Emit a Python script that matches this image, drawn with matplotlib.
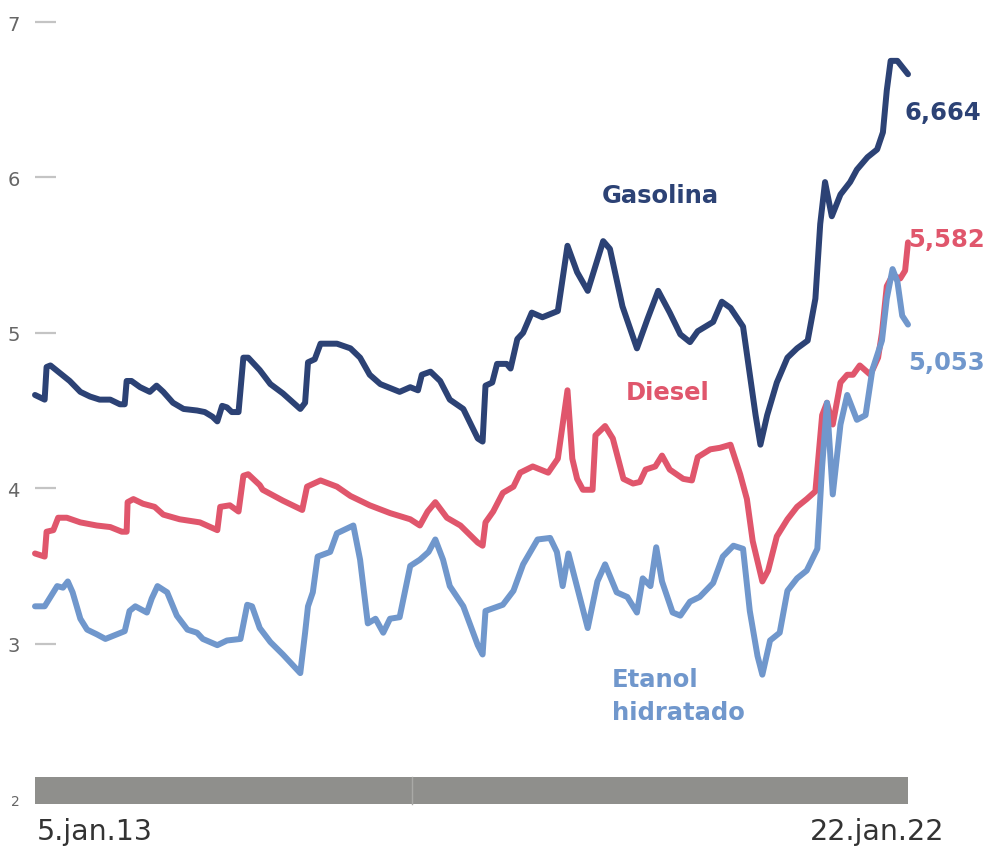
import matplotlib.pyplot as plt

# weekly fuel prices (R$/litre), key points by decimal year
gas_t = [2013.01, 2013.11, 2013.13, 2013.17, 2013.27, 2013.37, 2013.48, 2013.58, 2013.68, 2013.79,
         2013.89, 2013.94, 2013.96, 2014.01, 2014.10, 2014.20, 2014.27, 2014.34, 2014.44, 2014.55,
         2014.69, 2014.77, 2014.85, 2014.90, 2014.95, 2015.00, 2015.05, 2015.12, 2015.17, 2015.22,
         2015.34, 2015.45, 2015.58, 2015.76, 2015.81, 2015.84, 2015.91, 2015.97, 2016.14, 2016.28,
         2016.38, 2016.48, 2016.59, 2016.79, 2016.90, 2016.98, 2017.02, 2017.11, 2017.21, 2017.31,
         2017.45, 2017.60, 2017.65, 2017.68, 2017.75, 2017.80, 2017.90, 2017.94, 2018.01, 2018.07,
         2018.16, 2018.27, 2018.43, 2018.53, 2018.63, 2018.74, 2018.82, 2018.90, 2018.97, 2019.10,
         2019.25, 2019.36, 2019.47, 2019.59, 2019.70, 2019.80, 2019.88, 2020.04, 2020.13, 2020.22,
         2020.35, 2020.40, 2020.48, 2020.53, 2020.60, 2020.70, 2020.81, 2020.91, 2021.02, 2021.10,
         2021.15, 2021.20, 2021.27, 2021.36, 2021.46, 2021.53, 2021.64, 2021.74, 2021.80, 2021.84,
         2021.88, 2021.95, 2022.06]
gas_v = [4.60, 4.57, 4.78, 4.79, 4.74, 4.69, 4.62, 4.59, 4.57, 4.57,
         4.54, 4.54, 4.69, 4.69, 4.65, 4.62, 4.66, 4.62, 4.55, 4.51,
         4.50, 4.49, 4.46, 4.43, 4.53, 4.52, 4.49, 4.49, 4.84, 4.84,
         4.76, 4.67, 4.61, 4.51, 4.55, 4.81, 4.83, 4.93, 4.93, 4.90,
         4.84, 4.73, 4.67, 4.62, 4.65, 4.63, 4.73, 4.75, 4.69, 4.57,
         4.51, 4.32, 4.30, 4.66, 4.68, 4.80, 4.80, 4.77, 4.96, 5.00,
         5.13, 5.10, 5.14, 5.56, 5.39, 5.27, 5.43, 5.59, 5.54, 5.17,
         4.90, 5.09, 5.27, 5.13, 4.99, 4.94, 5.01, 5.07, 5.20, 5.16,
         5.04, 4.82, 4.47, 4.28, 4.47, 4.68, 4.84, 4.90, 4.95, 5.22,
         5.70, 5.97, 5.75, 5.89, 5.97, 6.05, 6.13, 6.18, 6.29, 6.56,
         6.75, 6.75, 6.664]

diesel_t = [2013.01, 2013.11, 2013.13, 2013.20, 2013.25, 2013.34, 2013.48, 2013.65, 2013.79, 2013.91,
            2013.96, 2013.97, 2014.03, 2014.13, 2014.25, 2014.34, 2014.51, 2014.72, 2014.90, 2014.93,
            2015.03, 2015.12, 2015.17, 2015.22, 2015.34, 2015.37, 2015.58, 2015.78, 2015.83, 2015.97,
            2016.14, 2016.28, 2016.48, 2016.69, 2016.90, 2017.00, 2017.08, 2017.16, 2017.28, 2017.42,
            2017.60, 2017.65, 2017.68, 2017.76, 2017.86, 2017.97, 2018.04, 2018.17, 2018.33, 2018.43,
            2018.53, 2018.58, 2018.63, 2018.69, 2018.79, 2018.82, 2018.92, 2019.00, 2019.11, 2019.21,
            2019.28, 2019.34, 2019.44, 2019.51, 2019.59, 2019.73, 2019.82, 2019.88, 2020.01, 2020.11,
            2020.22, 2020.32, 2020.39, 2020.45, 2020.55, 2020.61, 2020.70, 2020.81, 2020.91, 2021.01,
            2021.10, 2021.17, 2021.22, 2021.28, 2021.36, 2021.43, 2021.49, 2021.56, 2021.67, 2021.75,
            2021.79, 2021.84, 2021.90, 2021.98, 2022.03, 2022.06]
diesel_v = [3.58, 3.56, 3.72, 3.73, 3.81, 3.81, 3.78, 3.76, 3.75, 3.72,
            3.72, 3.91, 3.93, 3.90, 3.88, 3.83, 3.80, 3.78, 3.73, 3.88,
            3.89, 3.85, 4.08, 4.09, 4.02, 3.99, 3.92, 3.86, 4.01, 4.05,
            4.01, 3.95, 3.89, 3.84, 3.80, 3.76, 3.85, 3.91, 3.81, 3.76,
            3.65, 3.63, 3.78, 3.85, 3.97, 4.01, 4.10, 4.14, 4.10, 4.19,
            4.63, 4.19, 4.06, 3.99, 3.99, 4.34, 4.40, 4.32, 4.06, 4.03,
            4.04, 4.12, 4.14, 4.21, 4.12, 4.06, 4.05, 4.20, 4.25, 4.26,
            4.28, 4.09, 3.93, 3.66, 3.40, 3.47, 3.69, 3.80, 3.88, 3.93,
            3.98, 4.47, 4.55, 4.41, 4.68, 4.73, 4.73, 4.79, 4.73, 4.84,
            5.00, 5.30, 5.37, 5.35, 5.40, 5.582]

etanol_t = [2013.01, 2013.11, 2013.17, 2013.24, 2013.30, 2013.35, 2013.40, 2013.48, 2013.55, 2013.65,
            2013.74, 2013.86, 2013.94, 2013.99, 2014.05, 2014.17, 2014.22, 2014.28, 2014.38, 2014.48,
            2014.59, 2014.69, 2014.75, 2014.90, 2015.00, 2015.14, 2015.21, 2015.26, 2015.34, 2015.45,
            2015.58, 2015.76, 2015.81, 2015.84, 2015.89, 2015.94, 2016.07, 2016.14, 2016.31, 2016.38,
            2016.46, 2016.54, 2016.62, 2016.69, 2016.79, 2016.90, 2017.00, 2017.09, 2017.16, 2017.24,
            2017.31, 2017.45, 2017.60, 2017.65, 2017.68, 2017.86, 2017.97, 2018.07, 2018.22, 2018.35,
            2018.42, 2018.48, 2018.54, 2018.64, 2018.74, 2018.84, 2018.92, 2019.04, 2019.15, 2019.25,
            2019.31, 2019.39, 2019.45, 2019.51, 2019.62, 2019.70, 2019.80, 2019.90, 2020.04, 2020.14,
            2020.25, 2020.35, 2020.42, 2020.50, 2020.55, 2020.63, 2020.73, 2020.81, 2020.91, 2021.01,
            2021.12, 2021.17, 2021.22, 2021.28, 2021.36, 2021.43, 2021.53, 2021.62, 2021.69, 2021.79,
            2021.84, 2021.90, 2021.95, 2022.00, 2022.06]
etanol_v = [3.24, 3.24, 3.30, 3.37, 3.36, 3.40, 3.33, 3.16, 3.09, 3.06,
            3.03, 3.06, 3.08, 3.21, 3.24, 3.20, 3.29, 3.37, 3.33, 3.18,
            3.09, 3.07, 3.03, 2.99, 3.02, 3.03, 3.25, 3.24, 3.10, 3.01,
            2.93, 2.81, 3.07, 3.24, 3.33, 3.56, 3.59, 3.71, 3.76, 3.54,
            3.13, 3.16, 3.07, 3.16, 3.17, 3.50, 3.54, 3.59, 3.67, 3.54,
            3.37, 3.24, 2.99, 2.93, 3.21, 3.25, 3.34, 3.51, 3.67, 3.68,
            3.59, 3.37, 3.58, 3.34, 3.10, 3.40, 3.51, 3.33, 3.30, 3.20,
            3.42, 3.37, 3.62, 3.40, 3.20, 3.18, 3.27, 3.30, 3.39, 3.56,
            3.63, 3.61, 3.21, 2.92, 2.80, 3.02, 3.07, 3.34, 3.42, 3.47,
            3.61, 4.14, 4.55, 3.96, 4.41, 4.60, 4.44, 4.47, 4.76, 4.95,
            5.22, 5.41, 5.33, 5.11, 5.053]

start_label = "5.jan.13"
end_label = "22.jan.22"
y_ticks = [2, 3, 4, 5, 6, 7]

NAVY = "#2c4275"
RED = "#e0566c"
BLUE = "#7097cc"

fig = plt.figure(figsize=(9.9, 8.54), dpi=100)
ax = fig.add_axes([35 / 990, 39 / 854, 873 / 990, 805 / 854])
ax.set_xlim(gas_t[0], gas_t[-1])
ax.set_ylim(1.9035, 7.0837)

for s in ax.spines.values():
    s.set_visible(False)

# time bar along the bottom
ax.fill_between([gas_t[0], gas_t[-1]], 1.97, 2.14, color="#8f8f8c", lw=0, zorder=1)
ax.plot([2016.92, 2016.92], [1.97, 2.14], color="#a9a9a6", lw=1, zorder=1)

series = [(gas_t, gas_v, NAVY), (diesel_t, diesel_v, RED), (etanol_t, etanol_v, BLUE)]
for t, v, c in series:
    ax.plot(t, v, color=c, lw=4.3, solid_joinstyle="round", solid_capstyle="round",
            clip_on=False, zorder=3)

ax.set_yticks(y_ticks)
ax.set_yticklabels([str(y) for y in y_ticks])
ax.tick_params(axis="y", direction="in", length=15, width=1.6, color="#c4c4c4",
               labelsize=14, labelcolor="#666666", pad=11)
ax.yaxis.get_major_ticks()[0].tick1line.set_visible(False)
ax.get_yticklabels()[0].set_fontsize(10)
ax.set_xticks([])

# date labels below the bar
ax.annotate(start_label, (gas_t[0], 2.0), xytext=(2, -32), textcoords="offset pixels",
            ha="left", va="center", fontsize=20.5, color="#333333")
ax.annotate(end_label, (gas_t[-1], 2.0), xytext=(36, -32), textcoords="offset pixels",
            ha="right", va="center", fontsize=20.5, color="#333333")

# latest values
bold = dict(family="DejaVu Sans", fontweight="bold", fontsize=17.5)
ax.annotate(f"{gas_v[-1]:.3f}".replace(".", ","), (gas_t[-1], gas_v[-1]), xytext=(-3, -38),
            textcoords="offset pixels", ha="left", va="center", color=NAVY, **bold)
ax.annotate(f"{diesel_v[-1]:.3f}".replace(".", ","), (diesel_t[-1], diesel_v[-1]), xytext=(0, 3),
            textcoords="offset pixels", ha="left", va="center", color=RED, **bold)
ax.annotate(f"{etanol_v[-1]:.3f}".replace(".", ","), (etanol_t[-1], etanol_v[-1]), xytext=(0, -37),
            textcoords="offset pixels", ha="left", va="center", color=BLUE, **bold)

# series names
ax.text(2019.49, 5.89, "Gasolina", ha="center", va="center", color=NAVY, **bold)
ax.text(2019.57, 4.62, "Diesel", ha="center", va="center", color=RED, **bold)
ax.text(2018.99, 2.665, "Etanol\nhidratado", ha="left", va="center", color=BLUE,
        linespacing=1.5, **bold)

fig.savefig("out.png", dpi=100)
